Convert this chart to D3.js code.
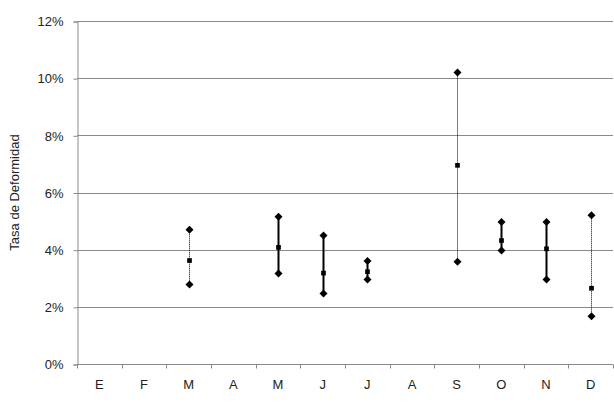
<!DOCTYPE html>
<html>
<head>
<meta charset="utf-8">
<script src="https://cdn.jsdelivr.net/npm/d3@7"></script>
<style>
  body { margin: 0; background: #fff; }
  text { font-family: "Liberation Sans", Arial, sans-serif; }
</style>
</head>
<body>
<div id="chart"></div>
<script>
// months and the three readings per month (null = no data)
var months = ['E', 'F', 'M', 'A', 'M', 'J', 'J', 'A', 'S', 'O', 'N', 'D'];
var highVals = [null, null, 4.7, null, 5.15, 4.5, 3.6, null, 10.2, 4.97, 4.97, 5.2];
var midVals  = [null, null, 3.62, null, 4.08, 3.18, 3.23, null, 6.95, 4.32, 4.03, 2.65];
var lowVals  = [null, null, 2.78, null, 3.17, 2.47, 2.96, null, 3.58, 3.97, 2.96, 1.67];
var dottedLine = [false, false, true, false, false, false, false, false, true, false, false, true];
var yTicks = [0, 2, 4, 6, 8, 10, 12];

var width = 614, height = 414;
var margin = { top: 21, right: 1, bottom: 50, left: 77 };

var svg = d3.select('#chart').append('svg')
  .attr('width', width)
  .attr('height', height);

var x = d3.scaleBand()
  .domain(d3.range(months.length))
  .range([margin.left, width - margin.right]);

var y = d3.scaleLinear()
  .domain([0, 12])
  .range([height - margin.bottom, margin.top]);

// gridlines
svg.append('g')
  .selectAll('line')
  .data(yTicks)
  .enter().append('line')
  .attr('x1', margin.left)
  .attr('x2', width - margin.right)
  .attr('y1', function (d) { return Math.round(y(d)) + 0.5; })
  .attr('y2', function (d) { return Math.round(y(d)) + 0.5; })
  .attr('stroke', '#8a8a8a')
  .attr('stroke-width', 1);

// y axis
var yAxis = svg.append('g')
  .attr('transform', 'translate(' + (margin.left + 0.5) + ',0.5)')
  .call(d3.axisLeft(y).tickValues(yTicks).tickSize(4).tickPadding(10)
    .tickFormat(function (d) { return d + '%'; }));
yAxis.selectAll('path, line').attr('stroke', '#8a8a8a');
yAxis.selectAll('text').attr('font-size', 13).attr('fill', '#222');

// x axis
var xAxis = svg.append('g')
  .attr('transform', 'translate(0,' + (Math.round(y(0)) + 0.5) + ')');
xAxis.append('line')
  .attr('x1', margin.left).attr('x2', width - margin.right)
  .attr('stroke', '#8a8a8a');
xAxis.selectAll('.tick')
  .data(d3.range(months.length + 1))
  .enter().append('line')
  .attr('x1', function (i) { return Math.round(margin.left + i * x.bandwidth()) + 0.5; })
  .attr('x2', function (i) { return Math.round(margin.left + i * x.bandwidth()) + 0.5; })
  .attr('y1', 0).attr('y2', 4)
  .attr('stroke', '#8a8a8a');
xAxis.selectAll('.lbl')
  .data(months)
  .enter().append('text')
  .attr('x', function (d, i) { return x(i) + x.bandwidth() / 2; })
  .attr('y', 24)
  .attr('text-anchor', 'middle')
  .attr('font-size', 13)
  .attr('fill', '#222')
  .text(function (d) { return d; });

// axis title
svg.append('text')
  .attr('transform', 'translate(19,' + y(6) + ') rotate(-90)')
  .attr('text-anchor', 'middle')
  .attr('font-size', 13)
  .attr('fill', '#222')
  .text('Tasa de Deformidad');

var idx = d3.range(months.length).filter(function (i) { return highVals[i] !== null; });
var cx = function (i) { return Math.round(x(i) + x.bandwidth() / 2) + 0.5; };

// high-low lines
svg.append('g')
  .selectAll('line')
  .data(idx)
  .enter().append('line')
  .attr('x1', cx).attr('x2', cx)
  .attr('y1', function (i) { return y(highVals[i]); })
  .attr('y2', function (i) { return y(lowVals[i]); })
  .attr('stroke', '#000')
  .attr('stroke-width', function (i) { return dottedLine[i] ? 1 : 2; })
  .attr('stroke-dasharray', function (i) { return dottedLine[i] ? '1,1' : null; });

var diamond = 'M0,-4L4,0L0,4L-4,0Z';
var square = d3.symbol().type(d3.symbolSquare).size(22);

[highVals, lowVals].forEach(function (vals) {
  svg.append('g')
    .selectAll('path')
    .data(idx)
    .enter().append('path')
    .attr('d', diamond)
    .attr('transform', function (i) { return 'translate(' + cx(i) + ',' + y(vals[i]) + ')'; })
    .attr('fill', '#000');
});

svg.append('g')
  .selectAll('path')
  .data(idx)
  .enter().append('path')
  .attr('d', square)
  .attr('transform', function (i) { return 'translate(' + cx(i) + ',' + y(midVals[i]) + ')'; })
  .attr('fill', '#000');
</script>
</body>
</html>
